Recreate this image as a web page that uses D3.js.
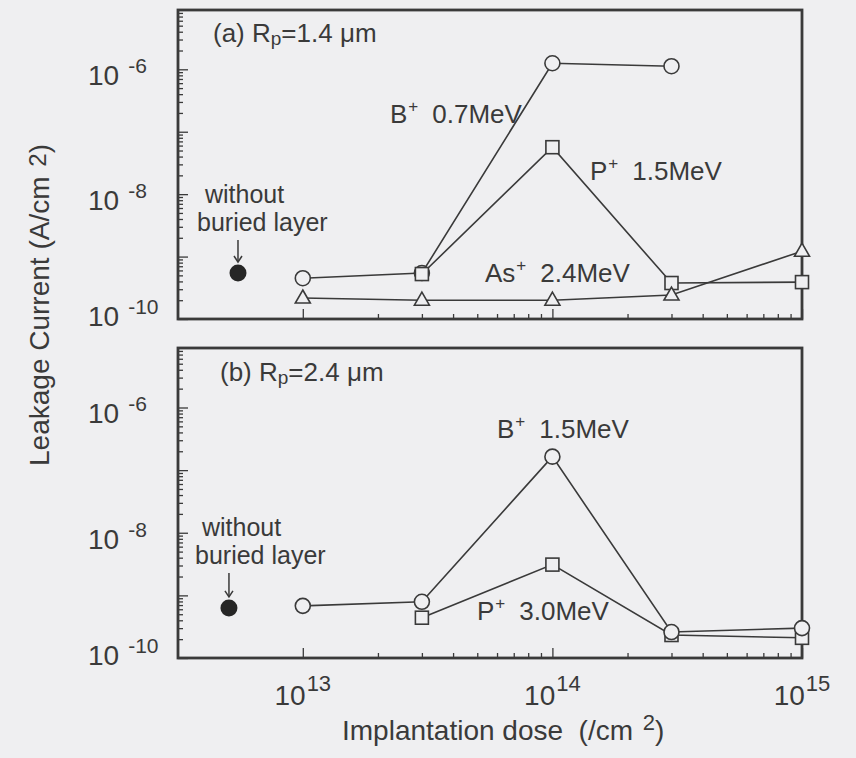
<!DOCTYPE html>
<html>
<head>
<meta charset="utf-8">
<script src="https://cdn.jsdelivr.net/npm/d3@7"></script>
<style>
  html, body { margin: 0; padding: 0; background: #efeff1; }
  svg { display: block; }
  text { font-family: "Liberation Sans", Arial, Helvetica, sans-serif; fill: #3a3a3a; }
</style>
</head>
<body>
<svg id="chart" width="856" height="758"></svg>
<script>
// Implantation doses (/cm^2) at which the wells were measured
const doses = [1e13, 3e13, 1e14, 3e14, 1e15];

// Panel (a): Rp = 1.4 um, leakage current (A/cm^2); null = not measured
const a_B07MeV  = [4.5e-10, 5.45e-10, 1.25e-6, 1.12e-6, null];
const a_P15MeV  = [null, 5.25e-10, 5.65e-8, 3.77e-10, 3.9e-10];
const a_As24MeV = [2.17e-10, 2.0e-10, 2.0e-10, 2.42e-10, 1.22e-9];
const a_noLayerDose = 5.5e12;
const a_noLayerCurrent = 5.45e-10;

// Panel (b): Rp = 2.4 um
const b_B15MeV = [6.8e-10, 7.9e-10, 1.64e-7, 2.6e-10, 3.0e-10];
const b_P30MeV = [null, 4.4e-10, 3.1e-9, 2.33e-10, 2.1e-10];
const b_noLayerDose = 5.06e12;
const b_noLayerCurrent = 6.3e-10;

// Axis extents and labelled decades
const doseExtent = [Math.pow(10, 12.5), 1e15];
const currentExtent = [1e-10, Math.pow(10, -5.05)];
const xLabelExps = [13, 14, 15];
const yLabelExps = [-10, -8, -6];

const ink = "#3a3a3a";
const paper = "#efeff1";
const svg = d3.select("#chart");

const x = d3.scaleLog().domain(doseExtent).range([178, 802]);

const panels = [
  {
    top: 10, bottom: 319,
    series: [
      { values: a_B07MeV, marker: "circle" },
      { values: a_P15MeV, marker: "square" },
      { values: a_As24MeV, marker: "triangle" }
    ],
    ref: { dose: a_noLayerDose, current: a_noLayerCurrent },
    title: { x: 213, y: 42, parts: [["(a) R", 26], ["p", 19, 3], ["=1.4 \u03bcm", 26, -3]] },
    labels: [
      { x: 390, y: 123, ion: "B", energy: "0.7MeV" },
      { x: 590, y: 180, ion: "P", energy: "1.5MeV" },
      { x: 485, y: 282, ion: "As", energy: "2.4MeV" }
    ],
    note: { x1: 205, x2: 197, y1: 203, y2: 231 }
  },
  {
    top: 348, bottom: 658,
    series: [
      { values: b_P30MeV, marker: "square" },
      { values: b_B15MeV, marker: "circle" }
    ],
    ref: { dose: b_noLayerDose, current: b_noLayerCurrent },
    title: { x: 220, y: 381, parts: [["(b) R", 26], ["p", 19, 3], ["=2.4 \u03bcm", 26, -3]] },
    labels: [
      { x: 497, y: 438, ion: "B", energy: "1.5MeV" },
      { x: 477, y: 620, ion: "P", energy: "3.0MeV" }
    ],
    note: { x1: 202, x2: 195, y1: 536, y2: 564 }
  }
];

function richText(g, px, py, parts, anchor) {
  const t = g.append("text")
    .attr("x", px).attr("y", py)
    .attr("text-anchor", anchor || "start")
    .style("white-space", "pre");
  parts.forEach(p => {
    const s = t.append("tspan").text(p[0]).attr("font-size", p[1]);
    if (p[2]) s.attr("dy", p[2]);
    if (p[3]) s.attr("dx", p[3]);
  });
  return t;
}

function drawMarker(g, kind, cx, cy) {
  if (kind === "circle") {
    g.append("circle").attr("cx", cx).attr("cy", cy).attr("r", 7.5)
      .attr("fill", paper).attr("stroke", ink).attr("stroke-width", 1.6);
  } else if (kind === "square") {
    g.append("rect").attr("x", cx - 6.5).attr("y", cy - 6.5)
      .attr("width", 13).attr("height", 13)
      .attr("fill", paper).attr("stroke", ink).attr("stroke-width", 1.6);
  } else if (kind === "triangle") {
    g.append("path")
      .attr("d", `M${cx},${cy - 8}L${cx + 7.5},${cy + 5}L${cx - 7.5},${cy + 5}Z`)
      .attr("fill", paper).attr("stroke", ink).attr("stroke-width", 1.6)
      .attr("stroke-linejoin", "miter");
  }
}

// log ticks: every integer multiple inside each decade
function logTicks(lo, hi) {
  const out = [];
  for (let e = Math.floor(Math.log10(lo)); e <= Math.ceil(Math.log10(hi)); e++) {
    for (let m = 1; m <= 9; m++) {
      const v = m * Math.pow(10, e);
      if (v >= lo * 0.999 && v <= hi * 1.001) out.push(v);
    }
  }
  return out;
}

const xTicks = logTicks(1e13, 1e15);
const yTicks = logTicks(currentExtent[0], currentExtent[1]);
const isDecade = v => Math.abs(Math.log10(v) - Math.round(Math.log10(v))) < 1e-6;

panels.forEach(p => {
  const y = d3.scaleLog().domain(currentExtent).range([p.bottom, p.top]);
  const g = svg.append("g");

  // inward ticks on the left and bottom edges
  [[xTicks.filter(v => !isDecade(v)), 5], [xTicks.filter(isDecade), 10]].forEach(([vals, len]) => {
    const ax = g.append("g").attr("transform", `translate(0,${p.bottom})`)
      .call(d3.axisBottom(x).tickValues(vals).tickSizeInner(-len).tickSizeOuter(0).tickFormat(""));
    ax.select(".domain").remove();
    ax.selectAll("line").attr("stroke", ink).attr("stroke-width", 1.3);
  });
  [[yTicks.filter(v => !isDecade(v)), 5], [yTicks.filter(isDecade), 10]].forEach(([vals, len]) => {
    const ax = g.append("g").attr("transform", `translate(${x.range()[0]},0)`)
      .call(d3.axisLeft(y).tickValues(vals).tickSizeInner(-len).tickSizeOuter(0).tickFormat(""));
    ax.select(".domain").remove();
    ax.selectAll("line").attr("stroke", ink).attr("stroke-width", 1.3);
  });

  // frame
  g.append("rect")
    .attr("x", x.range()[0]).attr("y", p.top)
    .attr("width", x.range()[1] - x.range()[0]).attr("height", p.bottom - p.top)
    .attr("fill", "none").attr("stroke", ink).attr("stroke-width", 2.8);

  // y tick labels 10^n
  yLabelExps.forEach(e => {
    const ty = y(Math.pow(10, e));
    const base = Math.min(ty + 16, p.bottom + 7);
    richText(g, 88, base, [["10", 28], [String(e), 21, -12, 9]]);
  });

  // curves
  const line = d3.line()
    .defined(d => d[1] != null)
    .x(d => x(d[0])).y(d => y(d[1]));
  p.series.forEach(s => {
    const pts = doses.map((d, i) => [d, s.values[i]]);
    g.append("path").attr("d", line(pts))
      .attr("fill", "none").attr("stroke", ink).attr("stroke-width", 1.6);
  });
  p.series.forEach(s => {
    doses.forEach((d, i) => {
      if (s.values[i] != null) drawMarker(g, s.marker, x(d), y(s.values[i]));
    });
  });

  // reference device without buried layer
  const rx = x(p.ref.dose), ry = y(p.ref.current);
  g.append("circle").attr("cx", rx).attr("cy", ry).attr("r", 8.5).attr("fill", "#262626");
  g.append("line").attr("x1", rx).attr("x2", rx).attr("y1", p.note.y2 + 9).attr("y2", ry - 11)
    .attr("stroke", ink).attr("stroke-width", 1.5);
  g.append("path")
    .attr("d", `M${rx - 4},${ry - 17}L${rx},${ry - 11}L${rx + 4},${ry - 17}`)
    .attr("fill", "none").attr("stroke", ink).attr("stroke-width", 1.5);
  richText(g, p.note.x1, p.note.y1, [["without", 25]]);
  richText(g, p.note.x2, p.note.y2, [["buried layer", 25]]);

  // panel heading and series labels
  richText(g, p.title.x, p.title.y, p.title.parts);
  p.labels.forEach(l => {
    richText(g, l.x, l.y, [[l.ion, 26], ["+", 17, -11, 1], [l.energy, 26, 11, 14]]);
  });
});

// x tick labels 10^n under the lower panel
xLabelExps.forEach(e => {
  richText(svg, x(Math.pow(10, e)), 705, [["10", 28], [String(e), 22, -14, 1]], "middle");
});

// axis titles
richText(svg, 342, 740, [["Implantation dose  (/cm ", 28], ["2", 22, -10, 2], [")", 28, 10]]);
richText(svg, 0, 0, [["Leakage Current (A/cm ", 28], ["2", 24, -3, 2], [")", 28, 3]], "middle")
  .attr("transform", "translate(49,305) rotate(-90)");
</script>
</body>
</html>
